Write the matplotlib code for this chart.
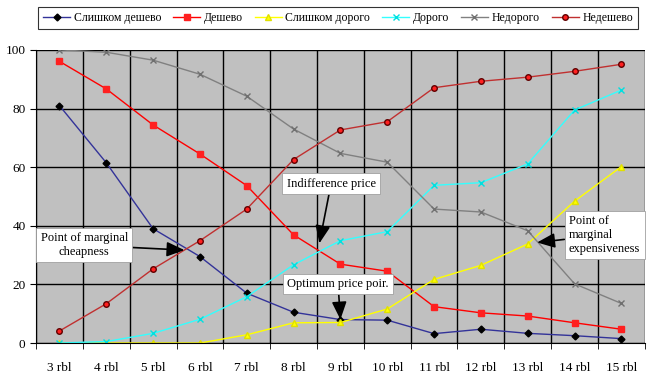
import matplotlib
matplotlib.use("Agg")
import matplotlib.pyplot as plt
import numpy as np

prices = ["3 rbl", "4 rbl", "5 rbl", "6 rbl", "7 rbl", "8 rbl", "9 rbl",
          "10 rbl", "11 rbl", "12 rbl", "13 rbl", "14 rbl", "15 rbl"]

too_cheap = [81, 61.5, 39, 29.5, 17, 10.5, 8, 7.8, 3.2, 4.7, 3.3, 2.5, 1.5]
cheap = [96.1, 86.7, 74.4, 64.5, 53.7, 36.9, 26.9, 24.5, 12.4, 10.3, 9.2, 6.9, 4.7]
too_expensive = [0, 0, 0, 0, 2.8, 6.9, 7, 11.6, 21.7, 26.5, 33.8, 48.4, 60.2]
expensive = [0, 0.5, 3.3, 8.1, 15.8, 26.7, 34.9, 38, 53.8, 54.7, 61.1, 79.5, 86.3]
not_expensive = [100, 99.2, 96.5, 91.7, 84.2, 73, 64.7, 61.7, 45.7, 44.7, 38.3, 20.2, 13.5]
not_cheap = [4.1, 13.4, 25.3, 34.9, 45.7, 62.6, 72.7, 75.5, 87.1, 89.3, 90.7, 92.7, 95.1]

plt.rcParams['font.family'] = ['Liberation Serif', 'DejaVu Serif']

fig = plt.figure(figsize=(6.5, 3.81), dpi=100)
ax = fig.add_axes([0.0554, 0.0997, 0.9366, 0.7693])
ax.set_facecolor('#c0c0c0')

x = np.arange(len(prices))
ax.plot(x, too_cheap, color='#333399', lw=1, marker='D', ms=3.5,
        mfc='black', mec='black', label='Слишком дешево')
ax.plot(x, cheap, color='#ff0000', lw=1, marker='s', ms=5,
        mfc='#ff2020', mec='#ff2020', label='Дешево')
ax.plot(x, too_expensive, color='#ffff00', lw=1, marker='^', ms=5,
        mfc='#ffff00', mec='#e0e000', label='Слишком дорого')
ax.plot(x, expensive, color='#33ffff', lw=1, marker='x', ms=4,
        mec='#00e0e0', label='Дорого')
ax.plot(x, not_expensive, color='#808080', lw=1, marker='x', ms=4,
        mec='#707070', label='Недорого')
ax.plot(x, not_cheap, color='#c03030', lw=1, marker='o', ms=4,
        mfc='#ff2020', mec='#600000', label='Недешево')

ax.set_xlim(-0.5, len(prices) - 0.5)
ax.set_ylim(0, 100)
ax.set_yticks([0, 20, 40, 60, 80, 100])
ax.set_xticks(x)
ax.set_xticklabels(prices)
ax.set_xticks(np.arange(-0.5, len(prices), 1), minor=True)
ax.tick_params(axis='x', which='major', length=0, pad=14, labelsize=9.5)
ax.tick_params(axis='x', which='minor', length=4, direction='out')
ax.tick_params(axis='y', length=4, labelsize=9.5)
ax.grid(True, which='minor', axis='x', color='black', lw=1)
ax.grid(True, which='major', axis='y', color='black', lw=1)
ax.set_axisbelow(True)
for s in ['top', 'right']:
    ax.spines[s].set_visible(False)

box = dict(boxstyle='square,pad=0.35', fc='white', ec='#a0a0a0', lw=0.6)
arrow = dict(arrowstyle='-|>,head_length=1.2,head_width=0.5',
             color='black', lw=1.2, shrinkA=0, shrinkB=0)

ax.annotate('Indifference price', xy=(5.55, 34), xytext=(4.85, 54.3),
            fontsize=9, va='center', ha='left', bbox=box, arrowprops=arrow)
ax.annotate('Point of marginal\ncheapness', xy=(2.67, 31.7), xytext=(0.53, 33.4),
            fontsize=9, va='center', ha='center', bbox=box, arrowprops=arrow)
ax.annotate('Optimum price poir.', xy=(6.0, 8.0), xytext=(5.95, 20.1),
            fontsize=9, va='center', ha='center', bbox=box, arrowprops=arrow)
ax.annotate('Point of\nmarginal\nexpensiveness', xy=(10.2, 34.3), xytext=(10.88, 36.9),
            fontsize=9, va='center', ha='left', bbox=box, arrowprops=arrow)

leg = fig.legend(loc='upper center', bbox_to_anchor=(0.52, 0.998), ncol=6,
                 fontsize=8.5, frameon=True, fancybox=False, edgecolor='black',
                 handlelength=2.3, columnspacing=1.0, handletextpad=0.3,
                 borderpad=0.45)
leg.get_frame().set_linewidth(0.8)

fig.savefig('out.png', dpi=100)
